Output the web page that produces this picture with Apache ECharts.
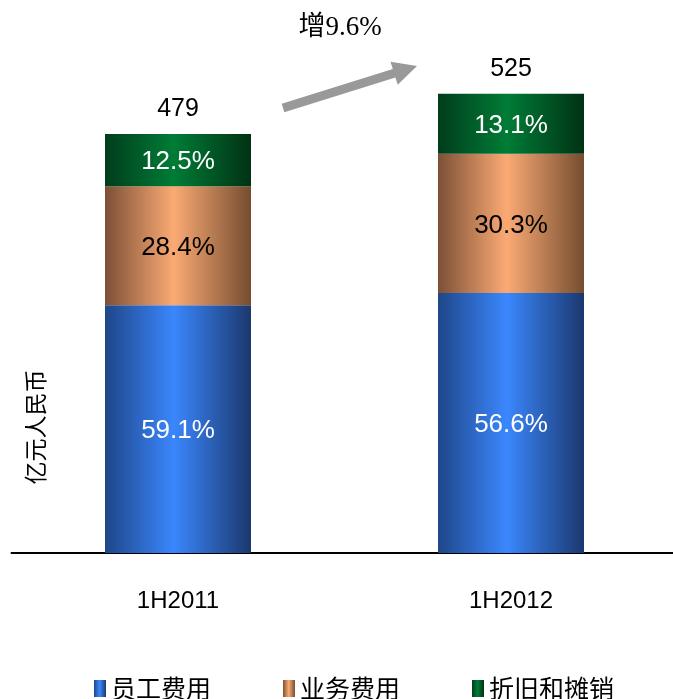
<!DOCTYPE html>
<html>
<head>
<meta charset="utf-8">
<script src="https://cdn.jsdelivr.net/npm/echarts@6/dist/echarts.min.js"></script>
<style>html,body{margin:0;padding:0;background:#fff;}#c{width:673px;height:699px;}</style>
</head>
<body>
<div id="c"></div>
<script>
const categories = ['1H2011', '1H2012'];
const seriesNames = ['员工费用', '业务费用', '折旧和摊销'];
const staffCost = [283.1, 297.2];
const businessCost = [136.0, 159.1];
const depreciation = [59.9, 68.7];
const staffPct = ['59.1%', '56.6%'];
const businessPct = ['28.4%', '30.3%'];
const deprPct = ['12.5%', '13.1%'];
const totals = [479, 525];
const growthText = '增9.6%';
const unitText = '亿元人民币';

const chart = echarts.init(document.getElementById('c'));
const G = echarts.graphic.LinearGradient;
function grad(edgeL, mid, edgeR) {
  return new G(0, 0, 1, 0, [
    {offset: 0, color: edgeL},
    {offset: 0.47, color: mid},
    {offset: 1, color: edgeR}
  ]);
}
const colors = [
  grad('#1f4689', '#3a87fd', '#1b386e'),
  grad('#7c5036', '#fbaa74', '#754d30'),
  grad('#003d1c', '#007c36', '#003214')
];
const font = '"Liberation Sans", Arial, sans-serif';
function lbl(arr, color) {
  return {
    show: true, position: 'inside', color: color, fontSize: 26, fontFamily: font,
    textBorderWidth: 0, offset: [0, 2],
    formatter: p => arr[p.dataIndex]
  };
}
const option = {
  animation: false,
  backgroundColor: '#fff',
  grid: {left: 11.5, width: 666, top: 28, bottom: 146, outerBoundsMode: 'none', containLabel: false},
  xAxis: {
    type: 'category', data: categories,
    axisLine: {lineStyle: {color: '#000', width: 2}},
    axisTick: {show: false},
    axisLabel: {color: '#000', fontSize: 24, fontFamily: font, margin: 36}
  },
  yAxis: {
    type: 'value', min: 0, max: 600,
    axisLine: {show: false}, axisTick: {show: false},
    axisLabel: {show: false}, splitLine: {show: false}
  },
  legend: {
    left: 89, top: 671, itemWidth: 12, itemHeight: 17, itemGap: 72,
    data: seriesNames,
    textStyle: {fontSize: 25, color: '#000', fontFamily: '"Noto Sans CJK SC", sans-serif'},
    icon: 'rect'
  },
  series: [
    {name: seriesNames[0], type: 'bar', stack: 't', barWidth: 146, data: staffCost,
     itemStyle: {color: colors[0]}, label: lbl(staffPct, '#fff')},
    {name: seriesNames[1], type: 'bar', stack: 't', barWidth: 146, data: businessCost,
     itemStyle: {color: colors[1]}, label: lbl(businessPct, '#000')},
    {name: seriesNames[2], type: 'bar', stack: 't', barWidth: 146, data: depreciation,
     itemStyle: {color: colors[2]}, label: lbl(deprPct, '#fff')},
    {name: 'total', type: 'scatter', data: totals, symbol: 'rect', symbolSize: 0.01,
     itemStyle: {color: '#ffffff', opacity: 1}, silent: true,
     label: {show: true, position: 'top', distance: 12, color: '#000000', opacity: 1,
             fontSize: 25, fontFamily: font, textBorderWidth: 0,
             formatter: p => String(totals[p.dataIndex])}}
  ],
  graphic: [
    {type: 'text', x: 35, y: 427, rotation: Math.PI / 2,
     style: {text: unitText, fontSize: 23, fill: '#000', fontFamily: '"Noto Sans CJK SC", sans-serif',
             align: 'center', verticalAlign: 'middle'}},
    {type: 'text', x: 340, y: 28,
     style: {text: growthText, fontSize: 27, fill: '#000', fontFamily: '"Liberation Serif", "Noto Sans CJK SC", serif',
             align: 'center', verticalAlign: 'middle'}},
    {type: 'polygon',
     shape: {points: [[281.7,103.7],[392.8,68.9],[390.5,61.7],[417,66],[397.7,84.7],[395.4,77.5],[284.3,112.3]]},
     style: {fill: '#999999'}}
  ]
};
chart.setOption(option);
</script>
</body>
</html>
